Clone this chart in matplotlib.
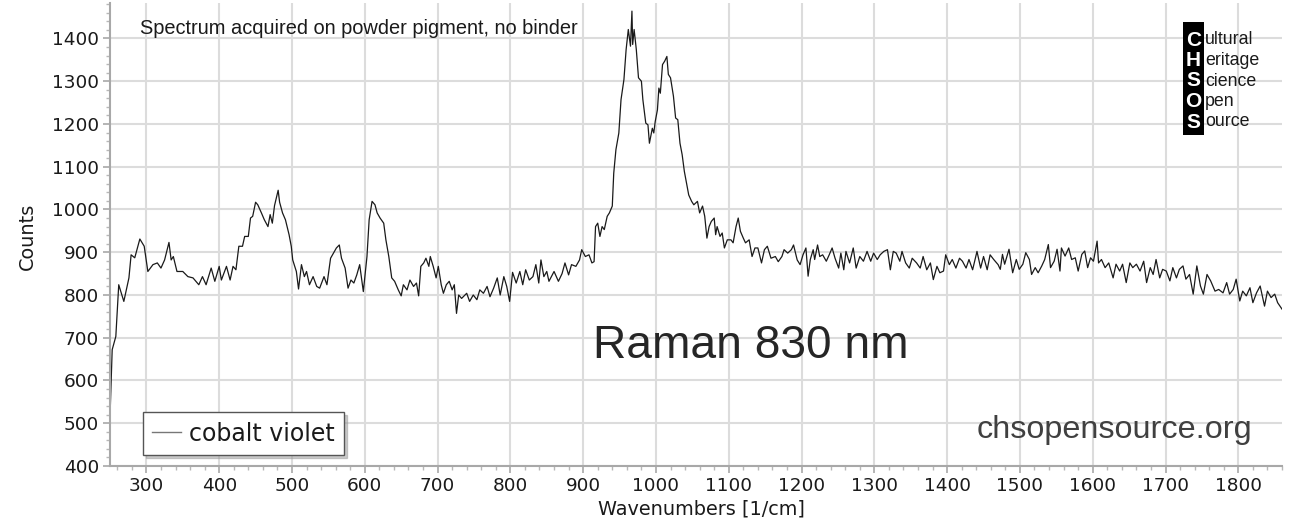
import matplotlib
matplotlib.use("Agg")
import matplotlib.pyplot as plt
from matplotlib.patches import Rectangle
from matplotlib.ticker import MultipleLocator

# ---- data ----
wavenumbers = [
    250, 253, 258, 262, 269, 276, 279, 284,
    291, 297, 302, 309, 315, 320, 325, 331, 334, 337, 342, 350, 357, 364, 372, 377, 382, 389, 394, 400,
    403, 410, 415, 419, 423, 427, 432, 435, 440, 443, 446, 450, 453, 458, 462, 467, 470, 473, 476, 481,
    483, 487, 491, 496, 499, 501, 506, 509, 513, 517, 520, 524, 529, 534, 538, 544, 548, 553, 557, 561,
    565, 568, 573, 577, 581, 585, 589, 593, 598, 603, 606, 610, 614, 617, 621, 626, 629, 633, 637, 641,
    646, 650, 653, 658, 662, 667, 671, 674, 677, 681, 684, 688, 690, 694, 698, 701, 705, 708, 712, 716,
    720, 723, 726, 729, 733, 740, 744, 749, 754, 758, 763, 768, 772, 777, 782, 786, 791, 795, 799, 803,
    808, 813, 817, 821, 826, 831, 835, 839, 842, 846, 850, 853,
    860, 866, 871, 875, 880, 884, 890, 895, 898, 903, 908, 912, 915, 917, 920, 923, 926, 929, 933, 936,
    940, 942, 945, 949, 952, 956, 959, 962, 965, 967, 968, 970, 973, 976, 980, 982, 986, 989, 991, 995,
    997, 999, 1002, 1004, 1006, 1009, 1012, 1015, 1017, 1020, 1024, 1027, 1030, 1033, 1036, 1039, 1042,
    1045, 1049, 1052, 1057, 1060, 1064, 1067, 1070, 1073, 1076, 1080, 1082, 1084, 1088, 1091, 1094, 1098,
    1103, 1106, 1110, 1113, 1116, 1120, 1123, 1128, 1132, 1136, 1140, 1145, 1149, 1153, 1158, 1164, 1168,
    1173, 1176, 1181, 1186, 1189, 1194, 1198,
    1202, 1206, 1209, 1212, 1216, 1218, 1222, 1225, 1229, 1234, 1238, 1242, 1246, 1251, 1254, 1258, 1261,
    1266, 1271, 1275, 1280, 1285, 1290, 1295, 1299, 1304, 1308, 1313, 1318, 1322, 1326, 1330, 1335, 1338,
    1343, 1348, 1352, 1358, 1363, 1367, 1372, 1377, 1381, 1386, 1390, 1395, 1398, 1403, 1407, 1412, 1417,
    1421, 1426, 1430, 1435, 1441, 1446, 1450, 1455, 1459, 1464, 1470,
    1473, 1476, 1479, 1485, 1490, 1495, 1499, 1504, 1508, 1513, 1516, 1521, 1525, 1530, 1534, 1539, 1542,
    1547, 1551, 1555, 1557, 1562, 1567, 1571, 1576, 1580, 1585, 1589, 1593, 1597, 1601, 1606, 1608, 1612,
    1617, 1622, 1628, 1632, 1637, 1641, 1646, 1651, 1655, 1660, 1665, 1670, 1674, 1679, 1683, 1687, 1692,
    1696, 1701, 1706, 1710, 1715, 1719, 1724, 1728, 1733, 1738, 1743, 1748, 1752, 1757, 1762, 1768, 1773,
    1779, 1784, 1788, 1793, 1797, 1802, 1806, 1811, 1816, 1820, 1825, 1830, 1836, 1840, 1845, 1850, 1854,
    1860,
]
counts = [
    515, 672, 703, 824, 785, 840, 894, 887,
    931, 914, 855, 871, 875, 863, 882, 923, 882, 890, 855, 855, 843, 840, 824, 843, 824, 863, 832, 867,
    835, 867, 835, 867, 859, 914, 914, 937, 937, 980, 984, 1017, 1011, 992, 976, 960, 988, 968, 1009, 1045,
    1017, 992, 976, 941, 914, 882, 855, 814, 871, 843, 855, 824, 843, 820, 816, 843, 824, 886, 898, 910,
    917, 886, 863, 816, 835, 828, 847, 871, 808, 890, 976, 1019, 1011, 992, 980, 968, 929, 890, 840, 832,
    812, 798, 824, 812, 835, 820, 828, 798, 867, 875, 886, 867, 890, 867, 840, 867, 824, 804, 824, 832,
    812, 824, 757, 800, 792, 804, 785, 800, 789, 812, 804, 820, 796, 816, 840, 800, 843, 820, 785, 853,
    828, 855, 824, 859, 835, 843, 871, 828, 882, 843, 855, 832,
    855, 832, 850, 875, 847, 871, 867, 882, 906, 890, 894, 875, 878, 960, 968, 937, 960, 953, 984, 992,
    1008, 1085, 1140, 1179, 1257, 1304, 1374, 1421, 1382, 1464, 1386, 1421, 1374, 1308, 1300, 1257, 1202, 1198, 1155, 1190,
    1179, 1206, 1233, 1284, 1272, 1339, 1347, 1358, 1316, 1308, 1265, 1214, 1210, 1155, 1128, 1089, 1062,
    1034, 1019, 1011, 1019, 992, 1008, 984, 933, 960, 972, 980, 941, 960, 937, 945, 910, 929,
    929, 922, 960, 980, 949, 933, 922, 929, 890, 910, 910, 875, 906, 914, 886, 890, 878,
    890, 906, 898, 906, 917, 882, 871,
    894, 910, 844, 883, 906, 883, 917, 890, 894, 879, 894, 910, 886, 863, 898, 859, 902,
    875, 910, 863, 890, 879, 902, 879, 898, 883, 894, 902, 906, 859, 902, 898, 879, 902,
    875, 863, 886, 875, 863, 890, 859, 875, 836, 867, 852, 856, 894, 871, 883, 863, 886,
    879, 863, 883, 859, 902, 863, 890, 859, 894, 883, 871,
    860, 895, 872, 907, 852, 883, 860, 872, 899, 883, 848, 864, 852, 868, 883, 918, 864,
    879, 907, 856, 910, 891, 910, 883, 887, 856, 895, 903, 864, 887, 879, 926, 875, 883,
    864, 875, 840, 872, 856, 872, 829, 875, 864, 872, 856, 879, 829, 864, 848, 883, 840,
    860, 856, 833, 864, 840, 860, 868, 837, 848, 802, 868, 821, 802, 848, 833, 809, 813,
    805, 829, 802, 813, 837, 786, 809, 798, 817, 782, 805, 821, 774, 809, 794, 802, 782,
    767,
]
series_name = "cobalt violet"
x_ticks = [300, 400, 500, 600, 700, 800, 900, 1000, 1100, 1200, 1300, 1400, 1500, 1600, 1700, 1800]
y_ticks = [400, 500, 600, 700, 800, 900, 1000, 1100, 1200, 1300, 1400]
logo_letters = ["C", "H", "S", "O", "S"]
logo_words = ["ultural", "eritage", "cience", "pen", "ource"]

W, H = 1293, 524
fig = plt.figure(figsize=(W / 100, H / 100), dpi=100)
ax = fig.add_axes([110 / W, (H - 466) / H, (1282 - 110) / W, (466 - 3) / H])

ax.plot(wavenumbers, counts, color="#1a1a1a", lw=0.9, label=series_name)
ax.set_xlim(250, 1860)
ax.set_ylim(400, 1483)
ax.set_xticks(x_ticks)
ax.set_yticks(y_ticks)
ax.xaxis.set_minor_locator(MultipleLocator(20))
ax.yaxis.set_minor_locator(MultipleLocator(20))
ax.grid(True, which="major", color="#dcdcdc", lw=1.5)
ax.set_axisbelow(True)
for s in ("top", "right"):
    ax.spines[s].set_visible(False)
for s in ("left", "bottom"):
    ax.spines[s].set_color("#a8a8a8")
    ax.spines[s].set_linewidth(1.5)
ax.tick_params(which="major", direction="out", length=5, width=1.2, color="#a8a8a8",
               labelsize=13.3, labelcolor="#1a1a1a", pad=3)
ax.tick_params(which="minor", direction="out", length=3, width=1.0, color="#b8b8b8")
xl = ax.set_xlabel("Wavenumbers [1/cm]", fontsize=13.9, color="#1a1a1a")
yl = ax.set_ylabel("Counts", fontsize=13.9, color="#1a1a1a")
xl.set_va("center")
yl.set_va("center")
ax.xaxis.set_label_coords((701 - 110) / (1282 - 110), -(509 - 466) / 463)
ax.yaxis.set_label_coords(-(110 - 27) / (1282 - 110), (466 - 236) / 463)

leg = ax.legend(loc="lower left", bbox_to_anchor=((143 - 110) / 1172, (466 - 455) / 463),
                borderaxespad=0, fontsize=17, frameon=True, fancybox=False,
                handlelength=1.2, handletextpad=0.35, borderpad=0.4,
                shadow={"color": "0.6", "alpha": 0.5})
leg.get_frame().set_edgecolor("#555555")
leg.get_frame().set_linewidth(1.0)
for ln in leg.get_lines():
    ln.set_color("#777777")
    ln.set_linewidth(1.0)
for t in leg.get_texts():
    t.set_color("#1a1a1a")

sans = ["Liberation Sans", "DejaVu Sans"]
fig.text(140 / W, 1 - 28 / H, "Spectrum acquired on powder pigment, no binder",
         family=sans, fontsize=14.4, color="#1a1a1a", va="center", ha="left")
fig.text(593 / W, 1 - 346 / H, "Raman 830 nm", family=sans, fontsize=33.2,
         color="#262626", va="center", ha="left")
fig.text(1252 / W, 1 - 430 / H, "chsopensource.org", family=sans, fontsize=23.3,
         color="#404040", va="center", ha="right")

# CHSOS logo
fig.patches.append(Rectangle((1183 / W, 1 - 135 / H), 21 / W, 113 / H,
                             transform=fig.transFigure, facecolor="black", edgecolor="none"))
logo_y = [40, 61, 81, 102, 122]
for letter, word, yy in zip(logo_letters, logo_words, logo_y):
    fig.text(1193.5 / W, 1 - yy / H, letter, family=sans, fontsize=15, weight="bold",
             color="white", ha="center", va="center")
    fig.text(1205 / W, 1 - yy / H, word, family=sans, fontsize=12.8,
             color="#1a1a1a", ha="left", va="center")

fig.savefig("out.png", dpi=100)
